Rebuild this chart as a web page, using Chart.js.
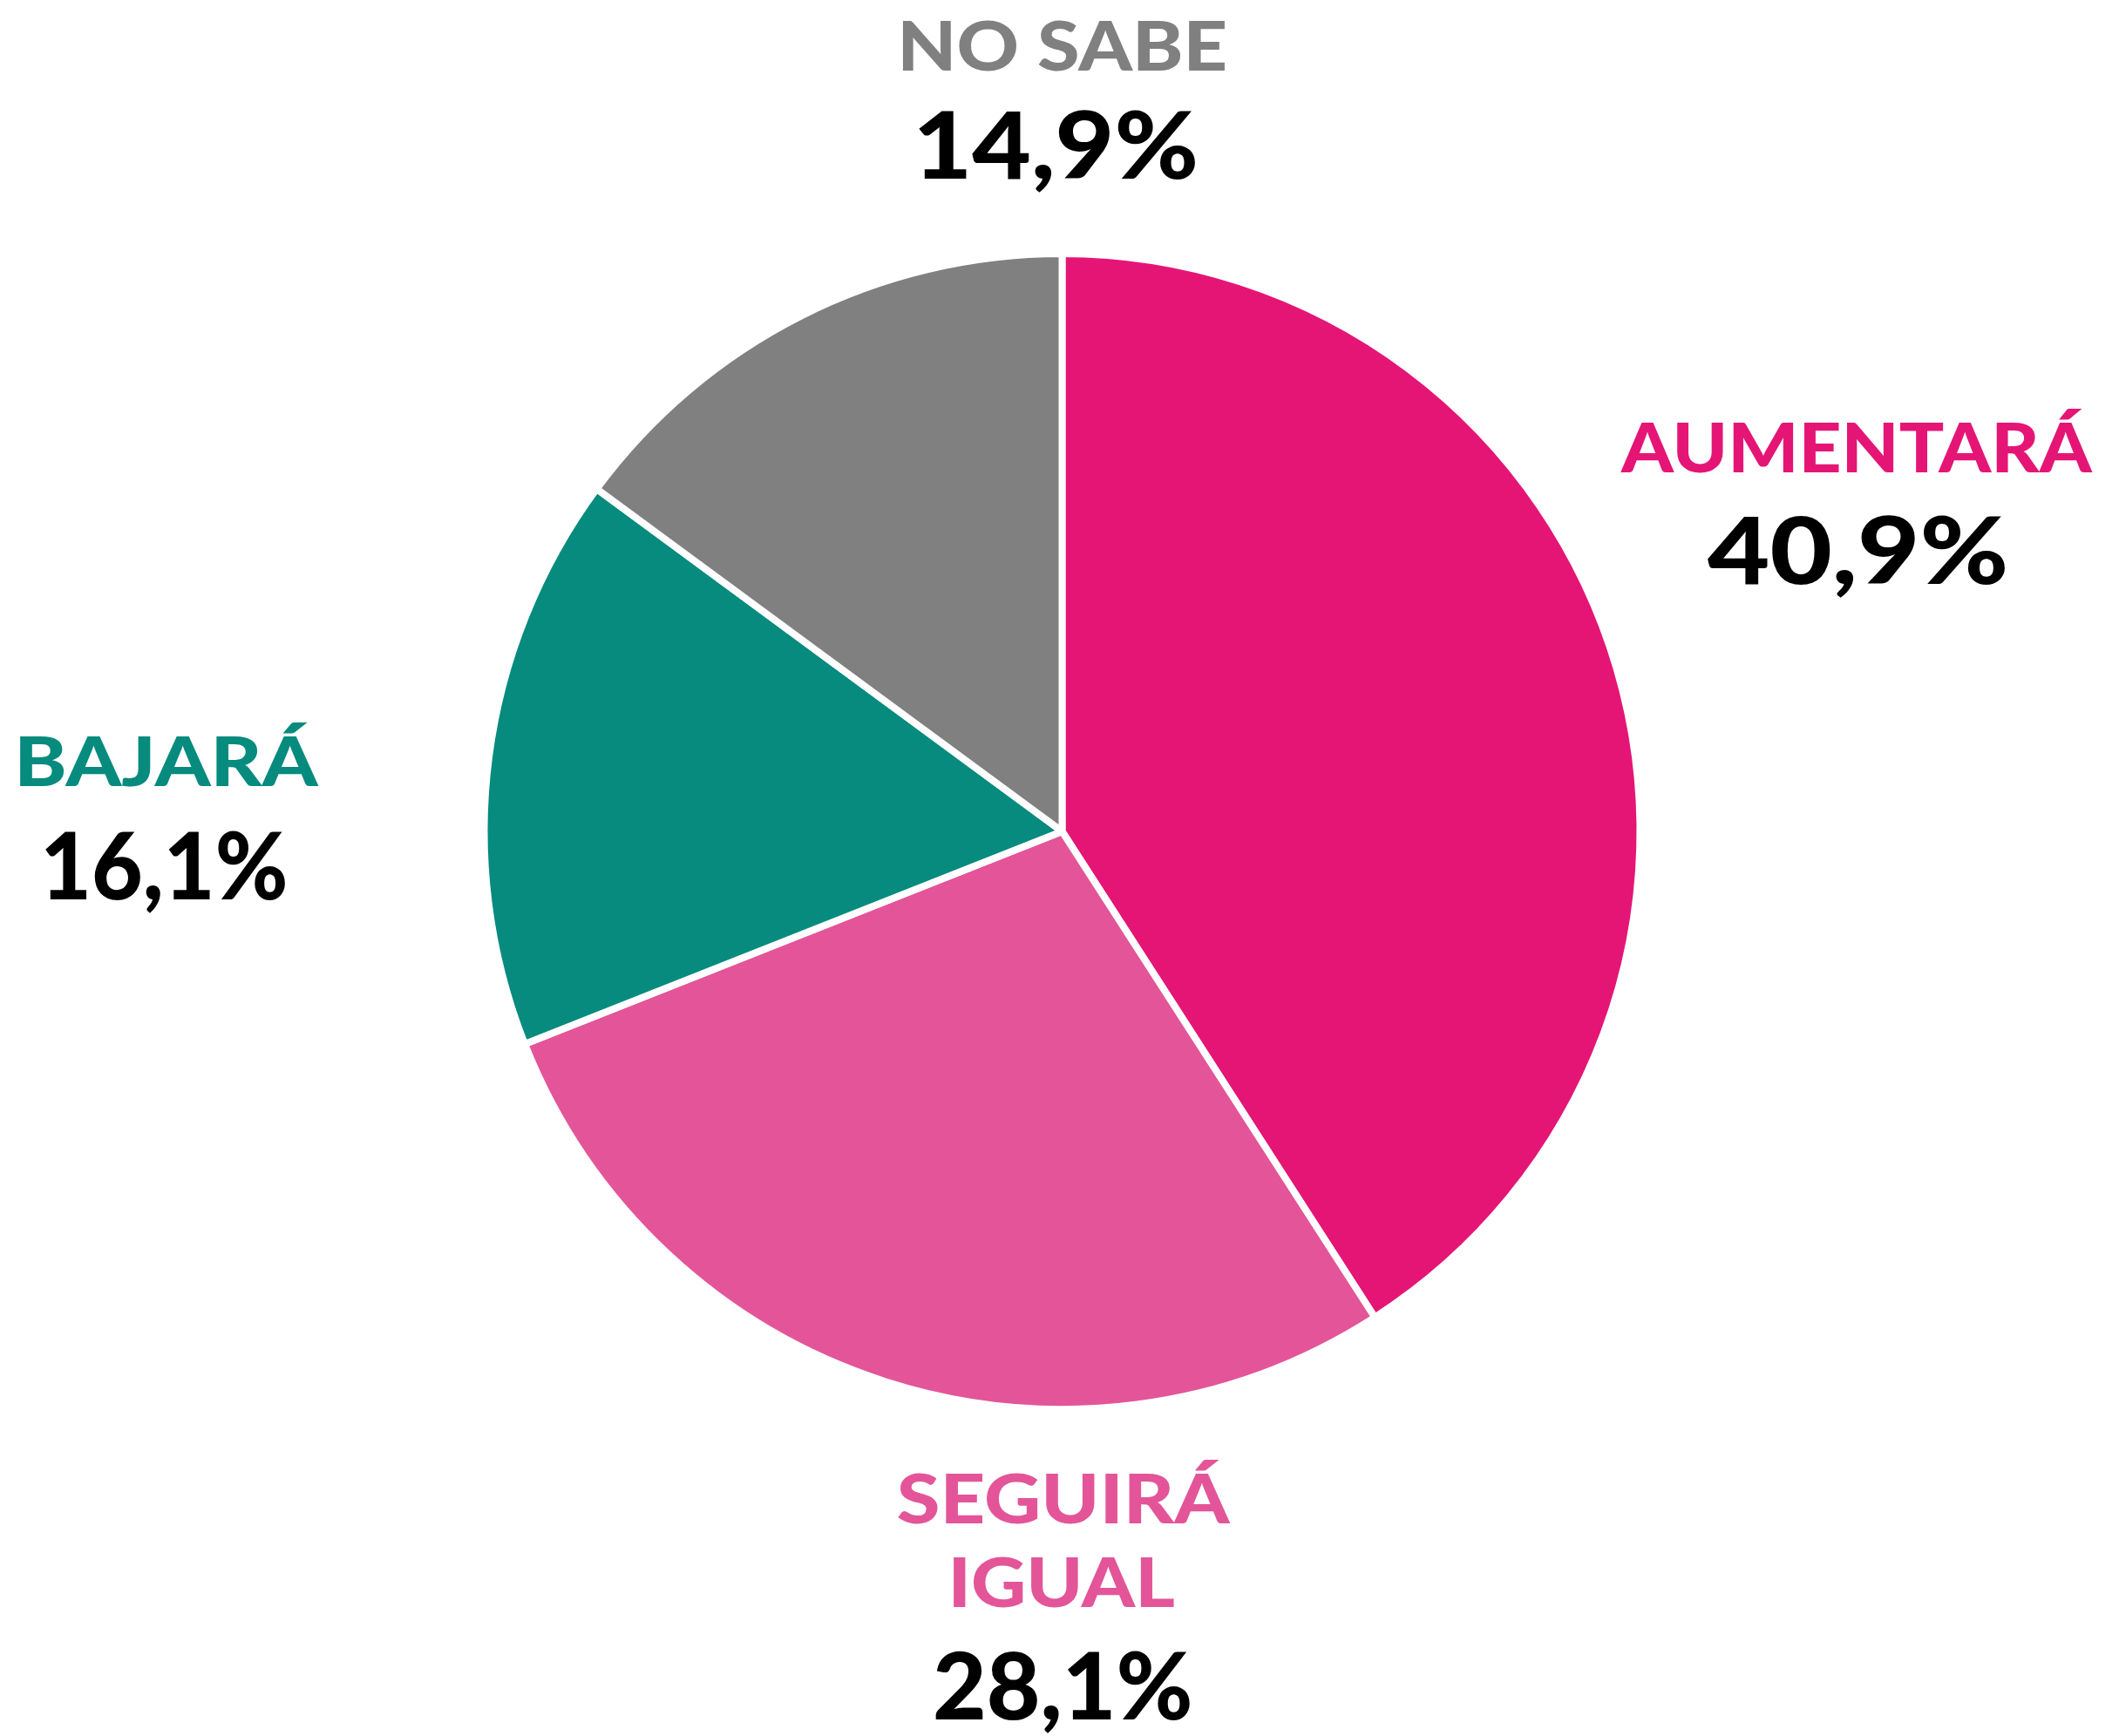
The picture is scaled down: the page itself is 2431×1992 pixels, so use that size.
<!DOCTYPE html>
<html>
<head>
<meta charset="utf-8">
<script src="https://cdn.jsdelivr.net/npm/chart.js@4/dist/chart.umd.min.js"></script>
<style>
  html, body { margin: 0; padding: 0; background: #ffffff; }
  #wrap { width: 2431px; height: 1992px; position: relative; }
</style>
</head>
<body>
<div id="wrap"><canvas id="c" width="2431" height="1992"></canvas></div>
<script>
// ---- data ----
const categories = ["AUMENTARÁ", "SEGUIRÁ IGUAL", "BAJARÁ", "NO SABE"];
const labelLines = [["AUMENTARÁ"], ["SEGUIRÁ", "IGUAL"], ["BAJARÁ"], ["NO SABE"]];
const values = [40.9, 28.1, 16.1, 14.9];
const valueLabels = ["40,9%", "28,1%", "16,1%", "14,9%"];
const colors = ["#E51576", "#E35598", "#078B7E", "#808080"];

// ---- label layout (center x, baseline y, ink width) ----
const labelLayout = [
  { name: [[2130, 542, 542]], value: [2129.5, 670, 341] },
  { name: [[1221, 1748, 382], [1220, 1844, 254]], value: [1219, 1973, 292] },
  { name: [[194, 902, 344]], value: [189.5, 1032, 275] },
  { name: [[1220, 81, 370]], value: [1212.5, 205, 317] }
];

const FONT_FAMILY = 'Lato';
const FONT_WEIGHT = '900';

function drawFitted(ctx, text, cx, baseline, inkW, size, color) {
  ctx.save();
  ctx.font = FONT_WEIGHT + ' ' + size + 'px "' + FONT_FAMILY + '", "Noto Sans", sans-serif';
  ctx.fillStyle = color;
  ctx.textAlign = 'left';
  ctx.textBaseline = 'alphabetic';
  const m = ctx.measureText(text);
  const left = m.actualBoundingBoxLeft;
  const w = left + m.actualBoundingBoxRight;
  const sx = inkW / w;
  ctx.translate(cx - inkW / 2, baseline);
  ctx.scale(sx, 1);
  ctx.fillText(text, left, 0);
  ctx.restore();
}

const labelPlugin = {
  id: 'sliceLabels',
  afterDraw(chart) {
    const ctx = chart.ctx;
    labelLayout.forEach((l, i) => {
      labelLines[i].forEach((line, j) => {
        const p = l.name[j];
        drawFitted(ctx, line, p[0], p[1], p[2], 78, colors[i]);
      });
      const v = l.value;
      drawFitted(ctx, valueLabels[i], v[0], v[1], v[2], 106, '#000000');
    });
  }
};

function build() {
  new Chart(document.getElementById('c'), {
    type: 'pie',
    data: {
      labels: categories,
      datasets: [{
        data: values,
        backgroundColor: colors,
        borderColor: '#ffffff',
        borderWidth: 8,
        hoverOffset: 0
      }]
    },
    options: {
      responsive: false,
      animation: false,
      devicePixelRatio: 1,
      radius: 663,
      layout: { padding: { left: 6, right: 0, top: 0, bottom: 84 } },
      plugins: {
        legend: { display: false },
        tooltip: { enabled: false }
      }
    },
    plugins: [labelPlugin]
  });
}

Promise.all([
  document.fonts.load(FONT_WEIGHT + ' 78px "' + FONT_FAMILY + '"', 'AUMENTARÁ'),
  document.fonts.load(FONT_WEIGHT + ' 106px "' + FONT_FAMILY + '"', '0123456789,%')
]).then(build, build);
</script>
</body>
</html>
